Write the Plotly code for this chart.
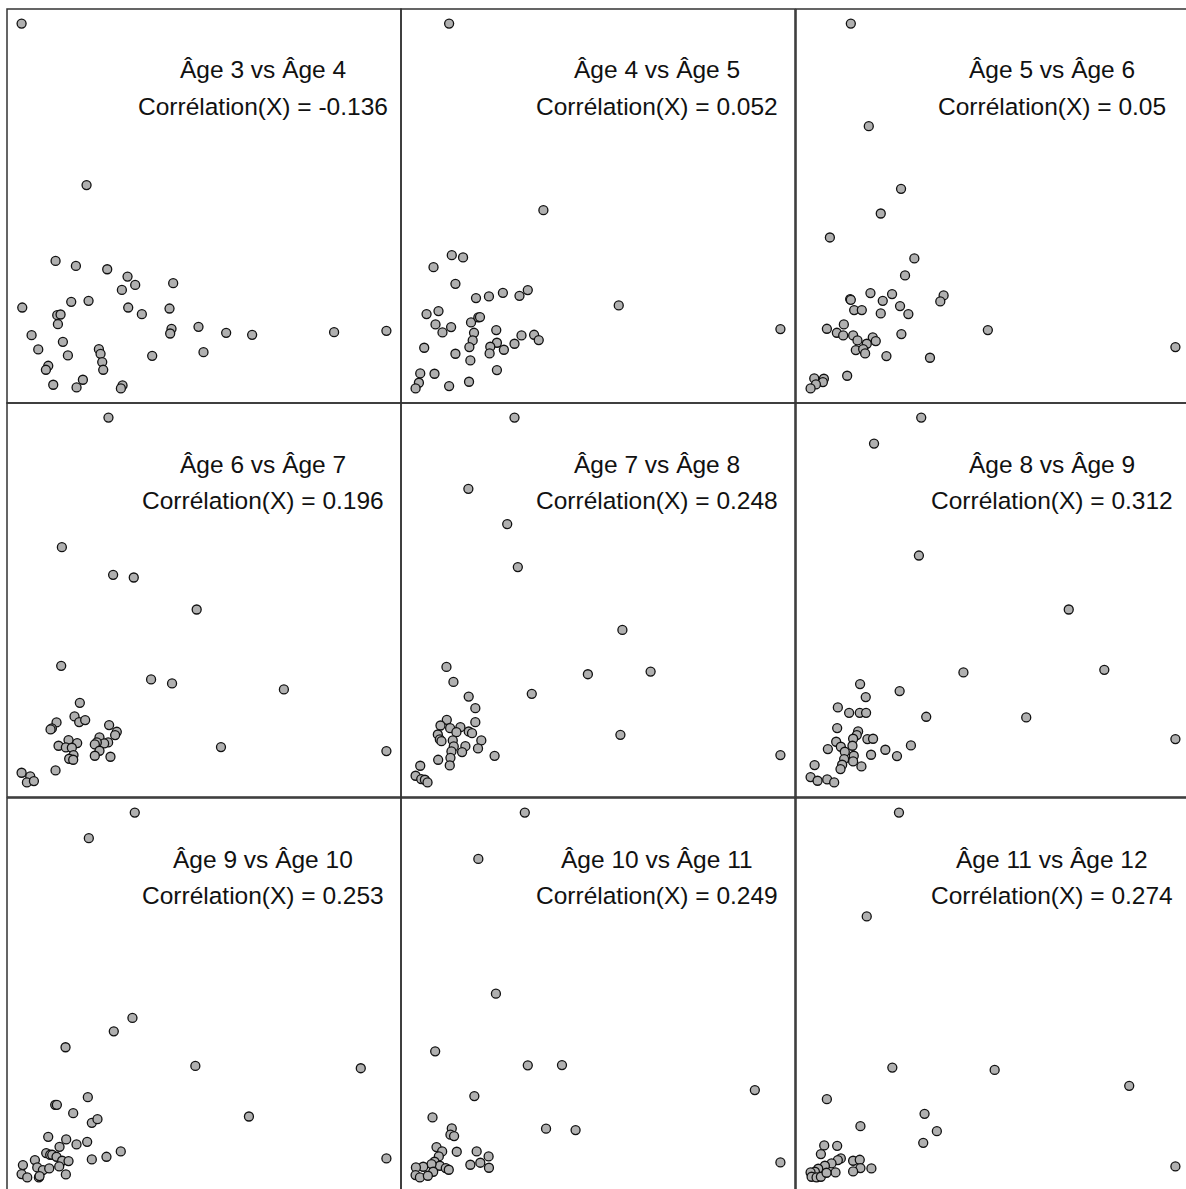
import plotly.graph_objects as go

# ---- data (arbitrary units; higher y = higher value) ----
titles = ["Âge 3 vs Âge 4", "Âge 4 vs Âge 5", "Âge 5 vs Âge 6",
          "Âge 6 vs Âge 7", "Âge 7 vs Âge 8", "Âge 8 vs Âge 9",
          "Âge 9 vs Âge 10", "Âge 10 vs Âge 11", "Âge 11 vs Âge 12"]
correlations = ["-0.136", "0.052", "0.05", "0.196", "0.248", "0.312", "0.253", "0.249", "0.274"]

p1_x = [65, 260, 167, 228, 322, 383, 406, 366, 520, 67, 214, 266, 385, 426, 509, 172, 182, 174, 95, 189, 115,
        204, 145, 138, 160, 230, 249, 297, 302, 307, 310, 368, 363, 457, 515, 511, 596, 611, 679, 757, 1003, 1160]
p1_y = [1130, 645, 417, 402, 392, 370, 345, 330, 350, 277, 294, 297, 277, 257, 274, 254, 256, 227, 194, 174, 151,
        133, 102, 90, 45, 37, 60, 152, 138, 113, 90, 43, 34, 132, 213, 199, 219, 143, 201, 195, 203, 207]

p2_x = [148, 432, 156, 190, 101, 167, 229, 268, 310, 360, 385, 80, 116, 107, 128, 154, 214, 236, 241, 223, 219, 209,
        212, 290, 292, 272, 270, 313, 345, 366, 404, 418, 73, 167, 292, 61, 104, 57, 47, 148, 208, 659, 1146]
p2_y = [1130, 570, 435, 428, 399, 349, 306, 311, 322, 313, 330, 258, 267, 227, 203, 219, 233, 248, 249, 202, 179, 159,
        119, 210, 172, 160, 140, 151, 169, 194, 196, 180, 157, 139, 90, 80, 79, 52, 35, 42, 55, 284, 213]

p3_x = [168, 222, 319, 258, 105, 359, 331, 227, 292, 264, 166, 168, 178, 201, 258, 316, 341, 447, 437, 147, 96, 126,
        145, 175, 188, 234, 243, 216, 183, 205, 211, 275, 320, 406, 580, 157, 58, 87, 84, 63, 47, 1144]
p3_y = [1130, 822, 634, 560, 488, 425, 374, 321, 318, 298, 303, 301, 270, 270, 260, 282, 258, 314, 296, 227, 214, 202,
        194, 194, 179, 188, 177, 169, 150, 153, 140, 132, 198, 127, 210, 73, 65, 64, 54, 47, 35, 159]

p4_x = [325, 185, 339, 401, 590, 183, 453, 516, 852, 239, 223, 237, 255, 169, 155, 151, 327, 350, 345, 298, 324, 312,
        290, 284, 298, 284, 331, 205, 231, 175, 197, 215, 220, 207, 219, 166, 663, 1160, 64, 90, 80, 101]
p4_y = [1145, 756, 673, 665, 569, 400, 359, 347, 329, 289, 248, 231, 237, 230, 212, 209, 222, 202, 192, 185, 170, 167,
        170, 164, 145, 130, 127, 177, 168, 160, 155, 154, 132, 121, 118, 86, 156, 144, 79, 68, 50, 54]

p5_x = [345, 206, 323, 355, 670, 566, 755, 397, 140, 161, 207, 227, 227, 141, 122, 151, 182, 170, 207, 217, 114, 120,
        125, 159, 245, 162, 197, 235, 155, 187, 152, 115, 150, 285, 664, 1146, 61, 47, 64, 75, 83]
p5_y = [1145, 931, 825, 696, 507, 374, 382, 315, 396, 351, 307, 272, 230, 237, 220, 212, 215, 200, 202, 197, 193, 178,
        173, 175, 175, 157, 158, 151, 142, 140, 123, 117, 100, 129, 192, 131, 99, 69, 59, 57, 49]

p6_x = [380, 238, 373, 824, 931, 507, 315, 196, 213, 129, 163, 195, 214, 395, 696, 127, 190, 186, 175, 218, 235, 124,
        138, 173, 150, 99, 272, 349, 229, 307, 177, 148, 175, 142, 137, 200, 59, 47, 68, 97, 118, 1145]
p6_y = [1145, 1067, 731, 569, 388, 380, 324, 345, 306, 275, 259, 259, 259, 247, 245, 213, 203, 192, 181, 180, 181, 172,
        157, 160, 142, 150, 148, 161, 133, 129, 130, 120, 113, 103, 90, 98, 102, 66, 55, 59, 50, 180]

p7_x = [404, 266, 397, 341, 196, 586, 1083, 263, 165, 170, 219, 275, 292, 747, 144, 198, 229, 261, 178, 138, 150, 156,
        169, 186, 205, 104, 68, 111, 128, 147, 177, 197, 64, 81, 116, 118, 275, 319, 362, 1160]
p7_y = [1146, 1069, 529, 489, 441, 385, 378, 291, 268, 268, 243, 214, 225, 233, 172, 164, 149, 157, 142, 123, 118, 118,
        112, 100, 99, 102, 87, 80, 72, 77, 83, 59, 60, 50, 50, 54, 104, 112, 128, 107]

p8_x = [376, 236, 289, 106, 385, 488, 1069, 224, 98, 156, 152, 163, 440, 529, 110, 127, 171, 231, 267, 242, 212, 268,
        117, 104, 120, 95, 138, 147, 100, 70, 48, 47, 60, 84, 1146]
p8_y = [1146, 1007, 603, 430, 388, 389, 314, 296, 232, 199, 180, 176, 198, 194, 143, 130, 129, 130, 115, 96, 90, 81,
        115, 99, 87, 92, 80, 75, 69, 84, 82, 59, 52, 57, 97]

p9_x = [313, 216, 293, 601, 1006, 96, 390, 427, 197, 386, 88, 127, 78, 138, 129, 110, 90, 175, 195, 197, 230, 175,
        122, 70, 60, 47, 50, 65, 78, 95, 1145]
p9_y = [1146, 834, 380, 373, 325, 285, 241, 189, 204, 154, 146, 145, 120, 107, 102, 92, 85, 100, 103, 78, 77, 68,
        65, 76, 67, 65, 52, 50, 52, 64, 83]

panels_x = [p1_x, p2_x, p3_x, p4_x, p5_x, p6_x, p7_x, p8_x, p9_x]
panels_y = [p1_y, p2_y, p3_y, p4_y, p5_y, p6_y, p7_y, p8_y, p9_y]

# ---- layout (pixels of the page) ----
W, H = 1186, 1189
col_left = [7, 401, 796]
row_top = [9, 403, 798]
PANEL = 394

fig = go.Figure()
shapes = []
annotations = []
layout_axes = {}

def padded(vals):
    lo, hi = min(vals), max(vals)
    span = hi - lo
    return lo - 0.04 * span, hi + 0.04 * span

FONT = dict(family="Liberation Sans, Arial", size=24.5, color="#111111")

for i in range(9):
    r, c = divmod(i, 3)
    xs, ys = panels_x[i], panels_y[i]
    suffix = "" if i == 0 else str(i + 1)
    fig.add_trace(go.Scatter(
        x=xs, y=ys, mode="markers",
        xaxis="x" + suffix, yaxis="y" + suffix,
        marker=dict(size=9, color="#b0b0b0", line=dict(color="#111111", width=1.3)),
        showlegend=False, hoverinfo="skip", cliponaxis=False,
    ))
    x0px = col_left[c]
    x1px = min(x0px + PANEL, W)
    y0px = row_top[r]
    y1px = min(y0px + PANEL, H)
    fx = (x1px - x0px) / PANEL
    fy = (y1px - y0px) / PANEL
    xlo, xhi = padded(xs)
    ylo, yhi = padded(ys)
    layout_axes["xaxis" + suffix] = dict(
        domain=[x0px / W, x1px / W], range=[xlo, xlo + fx * (xhi - xlo)],
        visible=False, anchor="y" + suffix)
    layout_axes["yaxis" + suffix] = dict(
        domain=[1 - y1px / H, 1 - y0px / H], range=[yhi - fy * (yhi - ylo), yhi],
        visible=False, anchor="x" + suffix)
    shapes.append(dict(
        type="rect", xref="paper", yref="paper",
        x0=x0px / W, x1=(x0px + PANEL) / W,
        y0=1 - (y0px + PANEL) / H, y1=1 - y0px / H,
        line=dict(color="#333333", width=1.5), fillcolor="rgba(0,0,0,0)"))
    cx = (x0px + 256) / W
    annotations.append(dict(
        text=titles[i], x=cx, y=1 - (y0px + 61) / H, xref="paper", yref="paper",
        xanchor="center", yanchor="middle", showarrow=False, font=FONT))
    annotations.append(dict(
        text="Corrélation(X) = " + correlations[i], x=cx, y=1 - (y0px + 97) / H,
        xref="paper", yref="paper", xanchor="center", yanchor="middle", showarrow=False,
        font=FONT))

fig.update_layout(
    width=W, height=H,
    margin=dict(l=0, r=0, t=0, b=0),
    paper_bgcolor="white", plot_bgcolor="white",
    shapes=shapes, annotations=annotations,
    **layout_axes,
)

fig.write_html("out.html")
